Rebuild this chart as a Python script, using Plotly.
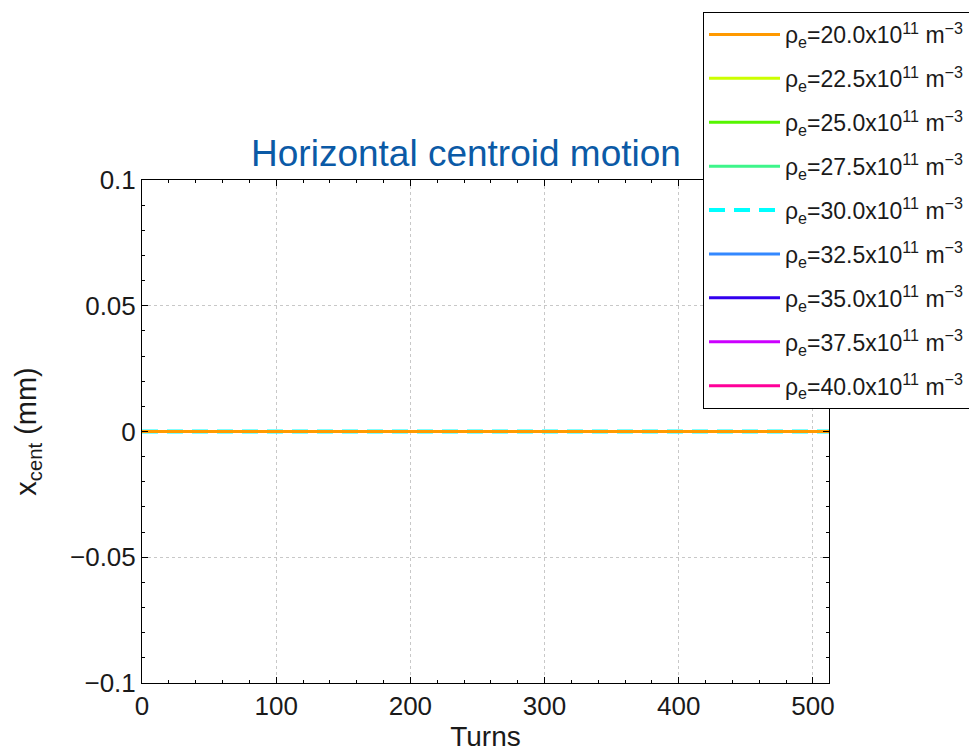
import plotly.graph_objects as go

# Turn numbers along the horizontal axis
turns = list(range(0, 513))

# Electron cloud densities (x10^11 m^-3) and their line colours
densities = [20.0, 22.5, 25.0, 27.5, 30.0, 32.5, 35.0, 37.5, 40.0]
colors = ["#FF9900", "#CCFF00", "#55F500", "#3DF58A", "#00FFFF",
          "#3388FF", "#3300EE", "#CC00FF", "#FF0099"]
dashes = ["solid", "solid", "solid", "solid", "16px,9px",
          "solid", "solid", "solid", "solid"]

# Horizontal centroid offset (mm) per turn for each density: the beam stays on axis
xcent_20_0 = [0.0] * len(turns)
xcent_22_5 = [0.0] * len(turns)
xcent_25_0 = [0.0] * len(turns)
xcent_27_5 = [0.0] * len(turns)
xcent_30_0 = [0.0] * len(turns)
xcent_32_5 = [0.0] * len(turns)
xcent_35_0 = [0.0] * len(turns)
xcent_37_5 = [0.0] * len(turns)
xcent_40_0 = [0.0] * len(turns)
series = [xcent_20_0, xcent_22_5, xcent_25_0, xcent_27_5, xcent_30_0,
          xcent_32_5, xcent_35_0, xcent_37_5, xcent_40_0]

# Tick values
x_ticks = [0, 100, 200, 300, 400, 500]
y_ticks = [-0.1, -0.05, 0, 0.05, 0.1]

FONT = "Liberation Sans, Arial, Helvetica, sans-serif"

fig = go.Figure()
# add in reverse so the lowest density is drawn on top; legendrank keeps the
# legend in ascending density, one legend group per trace spaces the rows
rows = list(enumerate(zip(densities, colors, dashes, series)))
for rank, (dens, col, dash, vals) in reversed(rows):
    fig.add_trace(go.Scatter(
        x=turns, y=vals, mode="lines",
        name=f"ρ<sub>e</sub>={dens:.1f}x10<sup>11</sup> m<sup>−3</sup>",
        legendgroup=f"d{dens}", legendrank=rank + 1,
        line=dict(color=col, width=4 if dash != "solid" else 3, dash=dash),
    ))

axis_common = dict(
    showline=True, linecolor="black", linewidth=1, mirror="allticks",
    ticks="inside", ticklen=6, tickcolor="black", tickwidth=1,
    showgrid=True, gridcolor="#c8c8c8", gridwidth=1, griddash="dot",
    zeroline=False,
    tickfont=dict(family=FONT, size=26, color="#1a1a1a"),
)

fig.update_xaxes(
    range=[0, 512], tickvals=x_ticks,
    minor=dict(dtick=20, ticks="inside", ticklen=3, tickcolor="black", showgrid=False),
    title=dict(text="Turns", font=dict(family=FONT, size=28, color="#1a1a1a"), standoff=6),
    **axis_common,
)
fig.update_yaxes(
    range=[-0.1, 0.1], tickvals=y_ticks,
    ticktext=["−0.1", "−0.05", "0", "0.05", "0.1"],
    minor=dict(dtick=0.01, ticks="inside", ticklen=3, tickcolor="black", showgrid=False),
    title=dict(text="x<sub>cent</sub> (mm)", font=dict(family=FONT, size=29, color="#1a1a1a"), standoff=24),
    **axis_common,
)

fig.update_layout(
    width=969, height=752,
    margin=dict(l=142, r=140, t=180, b=69, autoexpand=False),
    paper_bgcolor="white", plot_bgcolor="white",
    title=dict(text="Horizontal centroid motion", x=0.4716, xref="paper", xanchor="center",
               y=1 - 153 / 752, yanchor="middle",
               font=dict(family=FONT, size=37, color="#0b5aa6")),
    showlegend=True,
    legend=dict(
        x=0.8166, y=1.334, xanchor="left", yanchor="top",
        traceorder="grouped", tracegroupgap=11,
        maxheight=600,
        bgcolor="white", bordercolor="black", borderwidth=1,
        font=dict(family=FONT, size=23, color="#1a1a1a"),
        itemwidth=71,
    ),
)

fig.write_html("out.html")
